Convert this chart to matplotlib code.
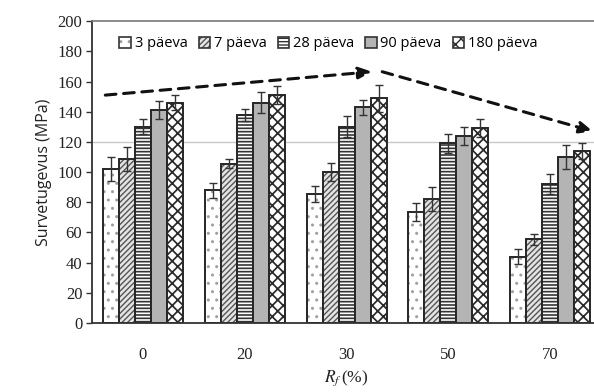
import numpy as np
import matplotlib.pyplot as plt
from matplotlib.colors import to_rgba
from matplotlib.patches import Patch

plt.rcParams['mathtext.fontset'] = 'stix'

# survetugevus (MPa) iga kivistumisaja kohta
rf_labels = ['0', '20', '30', '50', '70']
series = ['3 päeva', '7 päeva', '28 päeva', '90 päeva', '180 päeva']

d3 = [102, 88, 85.5, 73.5, 44]
d7 = [108.5, 105.5, 100, 82, 55.5]
d28 = [130, 138, 130, 119, 92]
d90 = [141, 146, 143, 124, 110]
d180 = [146, 151, 149, 129, 114]

e3 = [8, 5, 5.5, 6, 5]
e7 = [8, 3, 6, 8, 3.5]
e28 = [5, 4, 7, 6.5, 6.5]
e90 = [6, 7, 5, 6, 8]
e180 = [5, 6, 9, 6, 5]

# suundumuse nooled (x rühma indeksina, y MPa)
trend_x = [-0.37, 2.25, 2.35, 4.42]
trend_y = [151, 166.5, 166.5, 127]

values = [d3, d7, d28, d90, d180]
errors = [e3, e7, e28, e90, e180]
styles = [
    dict(fc='white', hatch='..', hc='#a0a0a0', hlw=1.0),
    dict(fc='#e4e4e4', hatch='//////', hc='#555555', hlw=1.0),
    dict(fc='white', hatch='-----', hc='#333333', hlw=1.2),
    dict(fc='#b4b4b4', hatch='', hc='#333333', hlw=1.0),
    dict(fc='white', hatch='xxx', hc='#2a2a2a', hlw=1.25),
]

fig = plt.figure(figsize=(5.94, 3.92), dpi=100)
ax = fig.add_axes([0.155, 0.176, 0.857, 0.770])

x = np.arange(len(rf_labels))
w = 0.157
handles = []
for i, (vals, errs, st) in enumerate(zip(values, errors, styles)):
    plt.rcParams['hatch.linewidth'] = st['hlw']
    pos = x + (i - 2) * w
    bars = ax.bar(pos, vals, w, facecolor=st['fc'], edgecolor='#262626',
                  linewidth=1.4, hatch=st['hatch'], zorder=2)
    for b in bars:
        b._hatch_color = to_rgba(st['hc'])
    ax.errorbar(pos, vals, yerr=errs, fmt='none', ecolor='#333333',
                elinewidth=1.0, capsize=3, capthick=1.0, zorder=3)
    hp = Patch(facecolor=st['fc'], edgecolor='#333333', linewidth=1.2,
               hatch=st['hatch'], label=series[i])
    hp._hatch_color = to_rgba(st['hc'])
    handles.append(hp)
plt.rcParams['hatch.linewidth'] = 1.0

ax.axhline(120, color='#c8c8c8', linewidth=1.0, zorder=0)

# kaks noolt: tõus kuni 30 %, siis langus
for k in (0, 2):
    ax.annotate('', xy=(trend_x[k + 1], trend_y[k + 1]), xytext=(trend_x[k], trend_y[k]),
                arrowprops=dict(arrowstyle='-|>,head_length=0.8,head_width=0.35',
                                linestyle=(0, (3.5, 2.5)), linewidth=2.2, color='#111111',
                                shrinkA=0, shrinkB=0), zorder=4)

ax.set_xlim(-0.5, 4.5)
ax.set_ylim(0, 200)
ax.set_yticks(range(0, 201, 20))
ax.set_xticks(x)
ax.set_xticklabels(rf_labels)
ax.tick_params(axis='y', direction='out', length=4, width=1, color='#333333',
               labelsize=12, pad=3)
ax.tick_params(axis='x', length=0, labelsize=12, pad=17)
for lab in ax.get_xticklabels() + ax.get_yticklabels():
    lab.set_family('Liberation Serif')
    lab.set_color('#222222')

for side in ['left', 'bottom']:
    ax.spines[side].set_color('#333333')
    ax.spines[side].set_linewidth(1.3)
ax.spines['top'].set_color('#777777')
ax.spines['top'].set_linewidth(1.2)
ax.spines['right'].set_visible(False)

ax.set_ylabel('Survetugevus (MPa)', family='Open Sans', fontsize=11.5,
              color='#222222', labelpad=4)
ax.set_xlabel(r'$R_f\,$(%)', family='Liberation Serif', fontsize=12.5,
              color='#222222', labelpad=4)

fig.legend(handles=handles, loc='center', bbox_to_anchor=(0.553, 0.888), ncol=5,
           frameon=False, handlelength=0.8, handleheight=0.8, handletextpad=0.25,
           columnspacing=0.75, prop={'family': 'Open Sans', 'size': 10.5})

fig.savefig('out.png', dpi=100, facecolor='white')
